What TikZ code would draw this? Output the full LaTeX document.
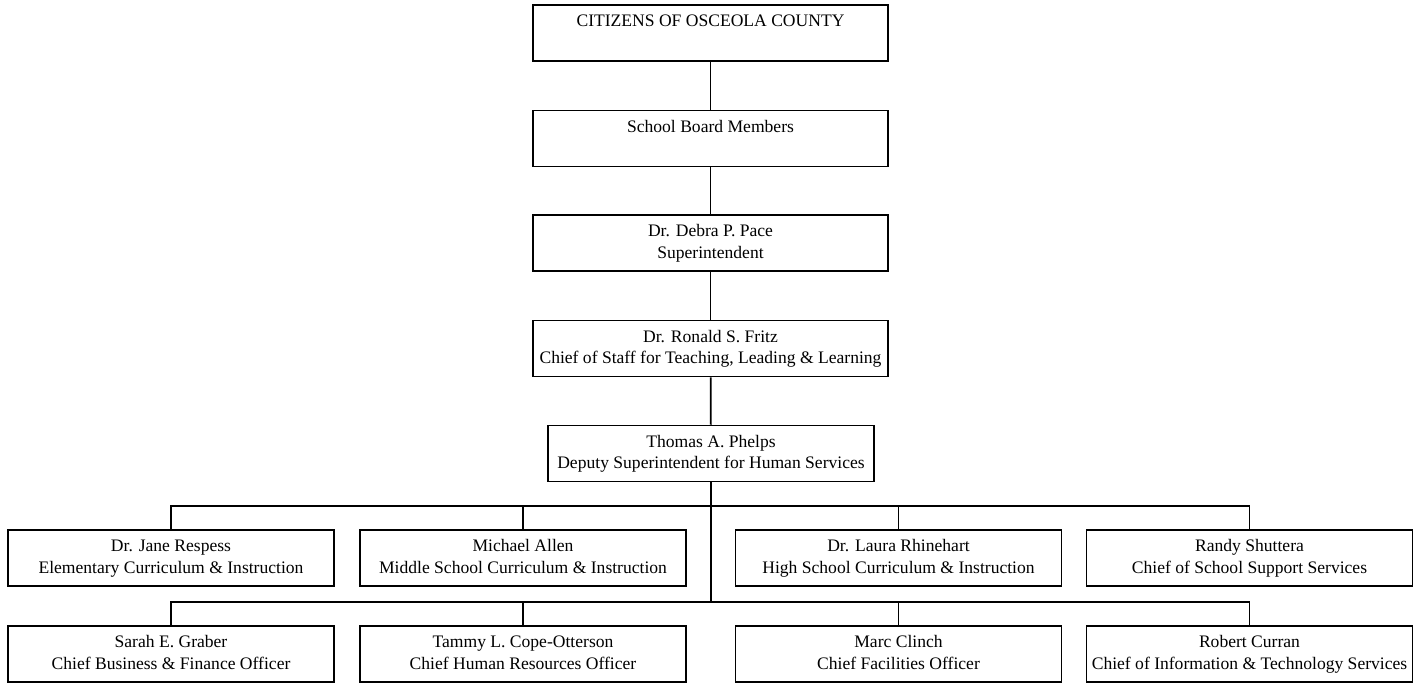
\documentclass[tikz,border=0pt]{standalone}
\usepackage{fontspec}
\setmainfont{Liberation Serif}
\usepackage{tikz}
\usetikzlibrary{positioning}

\newcommand{\staff}[2]{\strut #1\\ #2\strut}

\begin{document}
\begin{tikzpicture}[
    x=0.02cm, y=-0.02cm,
    font=\fontsize{10}{12.2}\selectfont,
    top/.style={
		rectangle,
		draw=black,
		line width=1pt,
		text centered,
		align=center,
		minimum width=7.1cm,
		minimum height=1.12cm,
		inner sep=0pt,
		fill=white
	},
    unit/.style={
		top,
		minimum width=6.52cm
	},
	link/.style={
		line width=1pt
	}
  ]
  \useasboundingbox (0,0) rectangle (1426,683);

  % the chain at the top
  \node [top] (citizens) at (710.5,33) {\staff{CITIZENS OF OSCEOLA COUNTY}{}};
  \node [top] (board) at (710.5,138.5) {\staff{School Board Members}{}};
  \node [top] (supt) at (710.5,243) {\staff{Dr. Debra P. Pace}{Superintendent}};
  \node [top] (chief) at (710.5,348.5) {\staff{Dr. Ronald S. Fritz}{Chief of Staff for Teaching, Leading \& Learning}};
  \node [unit] (deputy) at (711,453.5) {\staff{Thomas A. Phelps}{Deputy Superintendent for Human Services}};

  % first row
  \node [unit] (elem) at (171,558) {\staff{Dr. Jane Respess}{Elementary Curriculum \& Instruction}};
  \node [unit] (middle) at (523,558) {\staff{Michael Allen}{Middle School Curriculum \& Instruction}};
  \node [unit] (high) at (898.5,558) {\staff{Dr. Laura Rhinehart}{High School Curriculum \& Instruction}};
  \node [unit] (support) at (1249.5,558) {\staff{Randy Shuttera}{Chief of School Support Services}};

  % second row
  \node [unit] (finance) at (171,654) {\staff{Sarah E. Graber}{Chief Business \& Finance Officer}};
  \node [unit] (hr) at (523,654) {\staff{Tammy L. Cope-Otterson}{Chief Human Resources Officer}};
  \node [unit] (facilities) at (898.5,654) {\staff{Marc Clinch}{Chief Facilities Officer}};
  \node [unit] (tech) at (1249.5,654) {\staff{Robert Curran}{Chief of Information \& Technology Services}};

  \coordinate (bus1) at (711,506);
  \coordinate (bus2) at (711,602);

  \draw [link] (citizens) -- (board);
  \draw [link] (board) -- (supt);
  \draw [link] (supt) -- (chief);
  \draw [link] (chief) -- (deputy);
  \draw [link] (deputy) -- (bus2);

  \draw [link] (elem) |- (bus1) -| (support);
  \draw [link] (middle) -- (middle |- bus1);
  \draw [link] (high) -- (high |- bus1);

  \draw [link] (finance) |- (bus2) -| (tech);
  \draw [link] (hr) -- (hr |- bus2);
  \draw [link] (facilities) -- (facilities |- bus2);

\end{tikzpicture}
\end{document}
